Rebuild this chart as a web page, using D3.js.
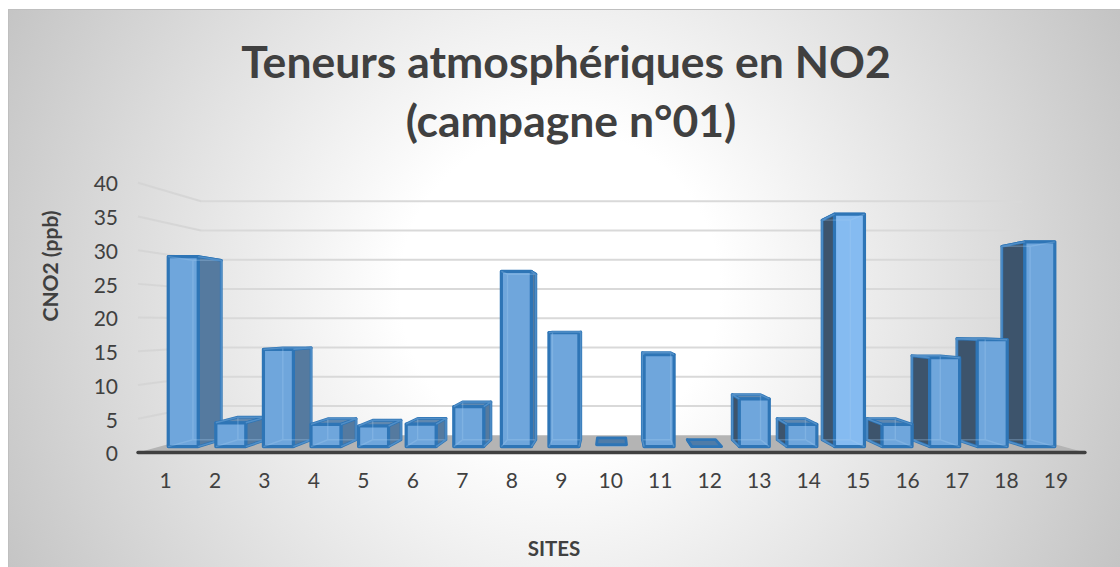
<!DOCTYPE html>
<html><head><meta charset="utf-8">
<script src="https://cdn.jsdelivr.net/npm/d3@7"></script>
<style>html,body{margin:0;padding:0;background:#fff}svg{display:block}text{font-family:Lato,sans-serif;fill:#404040}</style>
</head><body><svg id="c" width="1120" height="567"></svg>
<script>
const sites = ["1","2","3","4","5","6","7","8","9","10","11","12","13","14","15","16","17","18","19"];
const values = [29.5,3.7,15.1,3.45,3.2,3.5,6.2,27.2,17.7,0.3,14.3,0,7.4,3.46,36.1,3.46,13.8,16.6,31.8];
const yTicks = [0,5,10,15,20,25,30,35,40];
const titleLines = ["Teneurs atmosphériques en NO2","(campagne n°01)"];
const yTitle = "CNO2 (ppb)";
const xTitle = "SITES";

const svg = d3.select("#c");
const defs = svg.append("defs");
const rg = defs.append("radialGradient").attr("id","bg").attr("gradientUnits","userSpaceOnUse")
  .attr("cx",560).attr("cy",290).attr("r",640);
[[0,"#ffffff"],[0.25,"#ffffff"],[1,"#c2c2c2"]].forEach(s=>rg.append("stop").attr("offset",s[0]).attr("stop-color",s[1]));
svg.append("rect").attr("x",8).attr("y",9).attr("width",1112).attr("height",558).attr("fill","url(#bg)");
svg.append("path").attr("d","M8.5,567V9.5H1120").attr("fill","none").attr("stroke","#bfbfbf").attr("stroke-width",1);

// perspective: z=0 front of the chart box, z=1 back wall
const vx=612, vy=322.4, shrink=0.133;
const x = d3.scaleBand().domain(sites).range([138,1085]).paddingInner(0.37).paddingOuter(0.185);
const y = d3.scaleLinear().domain([0,40]).range([452.5,182.7]);
const P = (X,v,z)=>{const s=1-shrink*z; return [vx+s*(X-vx), vy+s*(y(v)-vy)];};
const poly = pts=>d3.line()(pts)+"Z";
const zF=0.34, zB=0.74;

// walls & floor
svg.append("path").attr("d",poly([P(138,0,0),P(1085,0,0),P(1085,0,1),P(138,0,1)])).attr("fill","#b4b4b4");
const grid = svg.append("g");
yTicks.filter(t=>t>0).forEach(t=>{
  grid.append("path").attr("d",d3.line()([P(138,t,0),P(138,t,1)])).attr("fill","none").attr("stroke","#d4d4d4").attr("stroke-width",2).attr("opacity",.85);
  grid.append("path").attr("d",d3.line()([P(138,t,1),P(1085,t,1)])).attr("fill","none").attr("stroke","#d9d9d9").attr("stroke-width",2);
});

// bars, painted from the outside towards the centre
const order = sites.map((s,i)=>i).sort((a,b)=>Math.abs(x(sites[b])+x.bandwidth()/2-vx)-Math.abs(x(sites[a])+x.bandwidth()/2-vx));
const edge="#2e75b6";
order.forEach(i=>{
  const s=sites[i], v=values[i], g=svg.append("g");
  const L=x(s), R=L+x.bandwidth(), c=(L+R)/2;
  const f=[P(L,v,zF),P(R,v,zF),P(R,0,zF),P(L,0,zF)];
  const b=[P(L,v,zB),P(R,v,zB),P(R,0,zB),P(L,0,zB)];
  const leftOfCentre = c<vx;
  const sideDark = leftOfCentre ? "#557a9f" : "#3d546c";
  const near = Math.abs(c-vx)<30;
  g.append("path").attr("d",poly(b)).attr("fill","#4d779f");
  g.append("path").attr("d",poly([f[3],f[2],b[2],b[3]])).attr("fill","#6a9dcf");
  g.append("path").attr("d",poly([f[0],f[1],b[1],b[0]])).attr("fill",v<1?"#4f7ca8":"#5f88b0").attr("stroke",edge).attr("stroke-width",2.8).attr("stroke-linejoin","round");
  if(!near||v>1){
    const side = leftOfCentre ? [f[1],b[1],b[2],f[2]] : [f[0],b[0],b[3],f[3]];
    g.append("path").attr("d",poly(side)).attr("fill",sideDark).attr("stroke",edge).attr("stroke-width",2.8).attr("stroke-linejoin","round");
  }
  if(v>0.5){
    g.append("path").attr("d",poly(f)).attr("fill",s==="15"?"#85bbf1":"#6fa6dc").attr("stroke",edge).attr("stroke-width",3.2).attr("stroke-linejoin","round");
    g.append("path").attr("fill","none").attr("stroke","#a6cdf2").attr("stroke-width",1.4).attr("opacity",.3)
     .attr("d",d3.line()([f[0],b[0],b[3],f[3]])+d3.line()([f[1],b[1],b[2],f[2]])+d3.line()([b[0],b[1]])+d3.line()([b[3],b[2]]));
  }
});

// axis bar
svg.append("path").attr("d",d3.line()([P(138,0,0),P(1085,0,0)])).attr("stroke","#404040").attr("stroke-width",3.4).attr("stroke-linecap","round").attr("fill","none");

// axes (labels only)
const yAxis = d3.axisLeft(y).tickValues(yTicks).tickSize(0).tickPadding(0);
const ga = svg.append("g").attr("transform","translate(118,1.5)").call(yAxis);
ga.select(".domain").remove();
ga.selectAll("text").style("font-size","21px").style("font-family","Lato,sans-serif").attr("fill","#404040");
const xl = d3.scalePoint().domain(sites).range([165,1055.5]);
const xAxis = d3.axisBottom(xl).tickSize(0).tickPadding(0);
const gb = svg.append("g").attr("transform","translate(0,473)").call(xAxis);
gb.select(".domain").remove();
gb.selectAll("text").style("font-size","21px").style("font-family","Lato,sans-serif").attr("fill","#404040");

// titles
svg.append("text").attr("x",566).attr("y",78).attr("text-anchor","middle").style("font-size","44.5px").style("font-weight",700).text(titleLines[0]);
svg.append("text").attr("x",571).attr("y",137).attr("text-anchor","middle").style("font-size","44.5px").style("font-weight",700).text(titleLines[1]);
svg.append("text").attr("transform","translate(58,266) rotate(-90)").attr("text-anchor","middle").style("font-size","21px").style("font-weight",700).text(yTitle);
svg.append("text").attr("x",554).attr("y",556).attr("text-anchor","middle").style("font-size","20.5px").style("font-weight",700).text(xTitle);
</script></body></html>
